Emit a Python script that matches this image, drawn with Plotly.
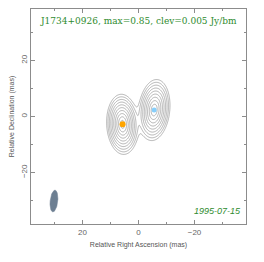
import numpy as np
import plotly.graph_objects as go

# ---- data ----
source_name = "J1734+0926"
peak_flux = 0.85
clev = 0.005
obs_date = "1995-07-15"

# model components: relative RA (mas), Dec (mas), peak (Jy/bm), scale_x, scale_y (mas), PA (deg)
comp_ra = [5.7, -5.6]
comp_dec = [-2.8, 2.3]
comp_peak = [0.85, 0.62]
comp_sx = [1.45, 1.5]
comp_sy = [2.75, 2.95]
comp_pa = [3.0, -6.0]
comp_colors = ["#FFA500", "#87CEFA"]
comp_sizes = [6, 5]

# restoring beam: centre RA, Dec (mas), major, minor (mas), PA (deg)
beam_ra, beam_dec = 30.2, -30.2
beam_major, beam_minor, beam_pa = 7.8, 2.7, -6.0

x_ticks = [20, 0, -20]
y_ticks = [-20, 0, 20]
axis_range = 38.4

# ---- model image ----
gx = np.linspace(40, -40, 321)
gy = np.linspace(-40, 40, 321)
X, Y = np.meshgrid(gx, gy)
img = np.zeros_like(X)
for ra, dec, p, sx, sy, pa in zip(comp_ra, comp_dec, comp_peak, comp_sx, comp_sy, comp_pa):
    t = np.deg2rad(pa)
    dx, dy = X - ra, Y - dec
    u = dx * np.cos(t) - dy * np.sin(t)
    v = dx * np.sin(t) + dy * np.cos(t)
    r = np.sqrt((u / sx) ** 2 + (v / sy) ** 2)
    img += p * np.exp(-r ** 1.2)
z = np.log2(np.clip(img, 1e-9, None) / clev)
z = np.clip(z, -5, None)

fig = go.Figure()
fig.add_trace(go.Contour(
    x=gx, y=gy, z=z,
    contours=dict(start=0, end=12, size=0.75, coloring="lines"),
    colorscale=[[0, "#a0a0a0"], [1, "#a0a0a0"]],
    line=dict(width=0.8),
    showscale=False, hoverinfo="skip",
))

# beam ellipse
th = np.linspace(0, 2 * np.pi, 80)
bt = np.deg2rad(beam_pa)
bu = beam_minor / 2 * np.cos(th)
bv = beam_major / 2 * np.sin(th)
bx = beam_ra + bu * np.cos(bt) + bv * np.sin(bt)
by = beam_dec - bu * np.sin(bt) + bv * np.cos(bt)
fig.add_trace(go.Scatter(x=bx, y=by, mode="lines", fill="toself",
                         fillcolor="#6d7f92", line=dict(color="#6d7f92", width=0.5),
                         hoverinfo="skip", showlegend=False))

for ra, dec, c, s in zip(comp_ra, comp_dec, comp_colors, comp_sizes):
    fig.add_trace(go.Scatter(x=[ra], y=[dec], mode="markers",
                             marker=dict(color=c, size=s), showlegend=False, hoverinfo="skip"))

green = "#2e8b2e"
fig.add_annotation(xref="paper", yref="paper", x=0.5, y=0.975, xanchor="center", yanchor="top",
                   text=f"{source_name}, max={peak_flux}, clev={clev} Jy/bm", showarrow=False,
                   font=dict(family="DejaVu Serif", size=9, color=green))
fig.add_annotation(xref="paper", yref="paper", x=0.985, y=0.03, xanchor="right", yanchor="bottom",
                   text=f"<i>{obs_date}</i>", showarrow=False,
                   font=dict(family="Liberation Sans", size=9, color=green))

axcol = "#8c8c8c"
common = dict(showgrid=False, zeroline=False, showline=True, linecolor=axcol, linewidth=1,
              mirror="ticks", ticks="inside", ticklen=4, tickcolor=axcol, tickwidth=1,
              tickfont=dict(family="Liberation Sans", size=8, color="#666"),
              minor=dict(ticks="inside", ticklen=2, dtick=10, tickcolor=axcol),
              title_font=dict(family="Liberation Sans", size=7, color="#555"),
              automargin=False)
fig.update_xaxes(range=[axis_range, -axis_range], tickvals=x_ticks, ticktext=[str(v).replace("-", "−") for v in x_ticks],
                 title_text="Relative Right Ascension (mas)", title_standoff=6, **common)
fig.update_yaxes(range=[-axis_range, axis_range], tickvals=y_ticks, ticktext=[str(v).replace("-", "−") for v in y_ticks],
                 tickangle=-90, title_text="Relative Declination (mas)", title_standoff=4, **common)

fig.update_layout(width=264, height=262, margin=dict(l=31, r=18, t=9, b=38),
                  paper_bgcolor="white", plot_bgcolor="white", showlegend=False)
fig.write_html("out.html", config={"displayModeBar": False},
               post_script="document.body.style.margin='0';document.body.style.padding='0';")
